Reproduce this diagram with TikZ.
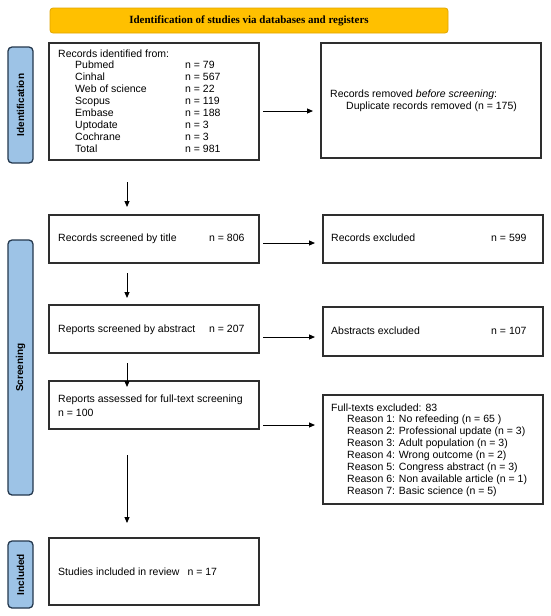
\documentclass[tikz,border=0pt]{standalone}
\usepackage{fontspec}
\setmainfont{Liberation Sans}
\newfontfamily\hdrfont{Liberation Serif}
\usetikzlibrary{arrows.meta}
\definecolor{boxline}{HTML}{2E2E2E}
\definecolor{hdrfill}{HTML}{FFC000}
\definecolor{hdrline}{HTML}{E0A500}
\definecolor{phfill}{HTML}{9DC3E6}
\definecolor{phline}{HTML}{24384D}
\begin{document}
\begin{tikzpicture}[x=1pt,y=-1pt,
  box/.style={draw=boxline, line width=1.1pt, anchor=north west, inner sep=0pt, outer sep=0pt},
  hdr/.style={draw=hdrline, fill=hdrfill, line width=0.8pt, rounded corners=3pt, anchor=north west, inner sep=0pt, outer sep=0pt},
  phase/.style={draw=phline, fill=phfill, line width=1.3pt, rounded corners=4pt, anchor=north west, inner sep=0pt, outer sep=0pt, minimum width=25pt},
  txt/.style={anchor=base west, inner sep=0pt, font=\fontsize{10.5}{11.9}\selectfont},
  plabel/.style={rotate=90, font=\fontsize{10}{12}\selectfont\bfseries, inner sep=0pt},
  arr/.style={-{Triangle[length=6pt,width=5pt]}, line width=1pt, black}]
\useasboundingbox (0,0) rectangle (550,616);
% header
\node[hdr, minimum width=398pt, minimum height=25pt] (hdr) at (50,8) {};
\node[font=\hdrfont\bfseries\fontsize{11}{13}\selectfont, inner sep=0pt] (hdrtxt) at (hdr.center) {Identification of studies via databases and registers};
% phase labels
\node[phase, minimum height=116pt] (pid) at (8,47) {};
\node[plabel] (pidt) at (pid.center) {Identification};
\node[phase, minimum height=255pt] (pscr) at (8,240) {};
\node[plabel] (pscrt) at (pscr.center) {Screening};
\node[phase, minimum height=67pt] (pinc) at (8,541) {};
\node[plabel] (pinct) at (pinc.center) {Included};
% boxes
\node[box, minimum width=210pt, minimum height=117pt] (b1) at (49,43) {};
\node[box, minimum width=220pt, minimum height=115pt] (b2) at (321,43) {};
\node[box, minimum width=210pt, minimum height=48pt] (b3) at (49,215) {};
\node[box, minimum width=220pt, minimum height=48pt] (b4) at (323,215) {};
\node[box, minimum width=210pt, minimum height=48pt] (b5) at (49,305) {};
\node[box, minimum width=220pt, minimum height=49pt] (b6) at (323,307) {};
\node[box, minimum width=210pt, minimum height=48pt] (b7) at (49,381) {};
\node[box, minimum width=220pt, minimum height=109pt] (b8) at (323,395) {};
\node[box, minimum width=210pt, minimum height=67pt] (b9) at (49,538) {};
% box 1 text
\node[txt] (t1) at (58,57) {\begin{tabular}[t]{@{}l@{}l@{}}
\multicolumn{2}{@{}l@{}}{Records identified from:}\\
\hspace{17pt}\makebox[110pt][l]{Pubmed} & n = 79\\
\hspace{17pt}\makebox[110pt][l]{Cinhal} & n = 567\\
\hspace{17pt}\makebox[110pt][l]{Web of science} & n = 22\\
\hspace{17pt}\makebox[110pt][l]{Scopus} & n = 119\\
\hspace{17pt}\makebox[110pt][l]{Embase} & n = 188\\
\hspace{17pt}\makebox[110pt][l]{Uptodate} & n = 3\\
\hspace{17pt}\makebox[110pt][l]{Cochrane} & n = 3\\
\hspace{17pt}\makebox[110pt][l]{Total} & n = 981
\end{tabular}};
% box 2 text
\node[txt] (t2a) at (330,97) {Records removed \textit{before screening}:};
\node[txt] (t2b) at (346,109) {Duplicate records removed (n = 175)};
% box 3/4
\node[txt] (t3a) at (58,241) {Records screened by title};
\node[txt] (t3b) at (209,241) {n = 806};
\node[txt] (t4a) at (331,241) {Records excluded};
\node[txt] (t4b) at (491,241) {n = 599};
% box 5/6
\node[txt] (t5a) at (58,332) {Reports screened by abstract};
\node[txt] (t5b) at (209,332) {n = 207};
\node[txt] (t6a) at (331,334) {Abstracts excluded};
\node[txt] (t6b) at (491,334) {n = 107};
% box 7
\node[txt] (t7a) at (58,402) {Reports assessed for full-text screening};
\node[txt] (t7b) at (58,416) {n = 100};
% box 8
\node[txt] (t8) at (331,411) {\begin{tabular}[t]{@{}l@{}}
Full-texts excluded: 83\\
\hspace{16pt}Reason 1: No refeeding (n = 65 )\\
\hspace{16pt}Reason 2: Professional update (n = 3)\\
\hspace{16pt}Reason 3: Adult population (n = 3)\\
\hspace{16pt}Reason 4: Wrong outcome (n = 2)\\
\hspace{16pt}Reason 5: Congress abstract (n = 3)\\
\hspace{16pt}Reason 6: Non available article (n = 1)\\
\hspace{16pt}Reason 7: Basic science (n = 5)
\end{tabular}};
% box 9
\node[txt] (t9) at (58,575) {Studies included in review\hspace{8pt}n = 17};
% horizontal arrows
\draw[arr] ([shift={(4,68)}]b1.north east) -- ([shift={(-8,68)}]b2.north west);
\draw[arr] ([shift={(4,28)}]b3.north east) -- ([shift={(-8,28)}]b4.north west);
\draw[arr] ([shift={(4,32)}]b5.north east) -- ([shift={(-8,30)}]b6.north west);
\draw[arr] ([shift={(4,44)}]b7.north east) -- ([shift={(-8,30)}]b8.north west);
% vertical arrows
\draw[arr] ([shift={(78,22)}]b1.south west) -- ([shift={(78,-8)}]b3.north west);
\draw[arr] ([shift={(78,10)}]b3.south west) -- ([shift={(78,-7)}]b5.north west);
\draw[arr] ([shift={(78,10)}]b5.south west) -- ([shift={(78,6)}]b7.north west);
\draw[arr] ([shift={(78,26)}]b7.south west) -- ([shift={(78,-15)}]b9.north west);
\end{tikzpicture}
\end{document}
